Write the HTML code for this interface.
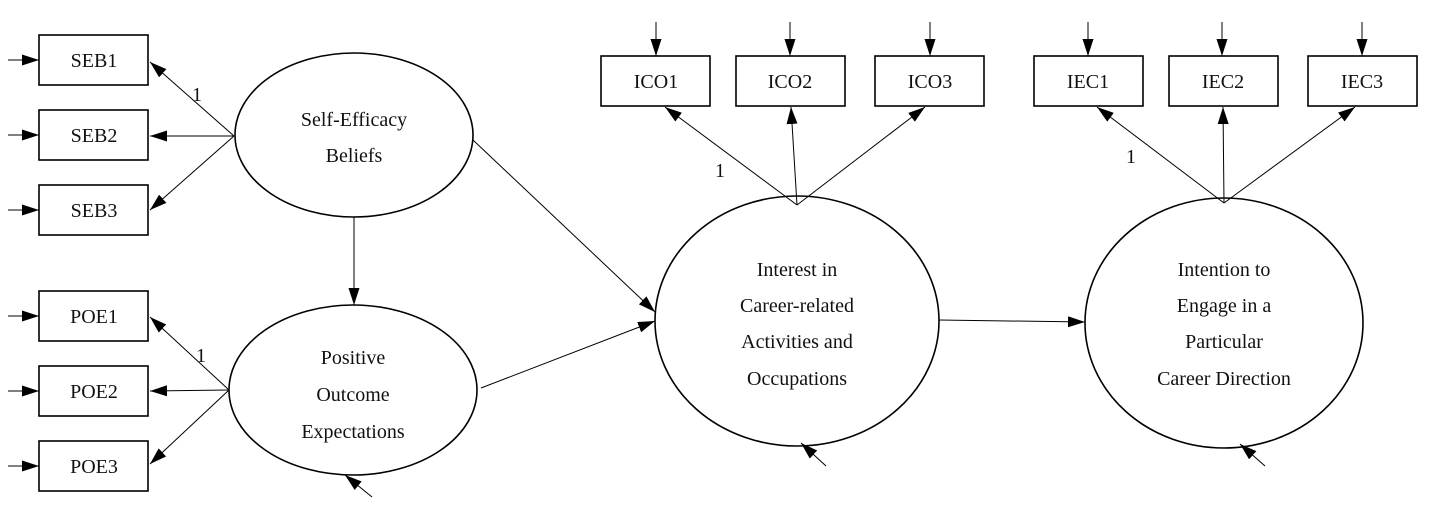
<!DOCTYPE html>
<html><head><meta charset="utf-8"><style>
html,body{margin:0;padding:0;background:#fff;}
svg{display:block;}
text{font-family:"Liberation Serif",serif;font-size:20px;fill:#111;text-anchor:middle;}
</style></head><body>
<svg width="1430" height="512" viewBox="0 0 1430 512" xmlns="http://www.w3.org/2000/svg">
<defs>
<marker id="a" markerWidth="17" markerHeight="11" refX="17" refY="5.5" orient="auto" markerUnits="userSpaceOnUse">
<path d="M0,0 L17,5.5 L0,11 z" fill="#000"/></marker>
</defs>
<g stroke="#000" stroke-width="1" fill="none">
<rect x="39" y="35" width="109" height="50" stroke-width="1.6"/>
<rect x="39" y="110" width="109" height="50" stroke-width="1.6"/>
<rect x="39" y="185" width="109" height="50" stroke-width="1.6"/>
<rect x="39" y="291" width="109" height="50" stroke-width="1.6"/>
<rect x="39" y="366" width="109" height="50" stroke-width="1.6"/>
<rect x="39" y="441" width="109" height="50" stroke-width="1.6"/>
<rect x="601" y="56" width="109" height="50" stroke-width="1.6"/>
<rect x="736" y="56" width="109" height="50" stroke-width="1.6"/>
<rect x="875" y="56" width="109" height="50" stroke-width="1.6"/>
<rect x="1034" y="56" width="109" height="50" stroke-width="1.6"/>
<rect x="1169" y="56" width="109" height="50" stroke-width="1.6"/>
<rect x="1308" y="56" width="109" height="50" stroke-width="1.6"/>
<ellipse cx="354" cy="135" rx="119" ry="82" stroke-width="1.6"/>
<ellipse cx="353" cy="390" rx="124" ry="85" stroke-width="1.6"/>
<ellipse cx="797" cy="321" rx="142" ry="125" stroke-width="1.6"/>
<ellipse cx="1224" cy="323" rx="139" ry="125" stroke-width="1.6"/>
<line x1="8" y1="60" x2="39" y2="60" marker-end="url(#a)"/>
<line x1="8" y1="135" x2="39" y2="135" marker-end="url(#a)"/>
<line x1="8" y1="210" x2="39" y2="210" marker-end="url(#a)"/>
<line x1="8" y1="316" x2="39" y2="316" marker-end="url(#a)"/>
<line x1="8" y1="391" x2="39" y2="391" marker-end="url(#a)"/>
<line x1="8" y1="466" x2="39" y2="466" marker-end="url(#a)"/>
<line x1="656" y1="22" x2="656" y2="56" marker-end="url(#a)"/>
<line x1="790" y1="22" x2="790" y2="56" marker-end="url(#a)"/>
<line x1="930" y1="22" x2="930" y2="56" marker-end="url(#a)"/>
<line x1="1088" y1="22" x2="1088" y2="56" marker-end="url(#a)"/>
<line x1="1222" y1="22" x2="1222" y2="56" marker-end="url(#a)"/>
<line x1="1362" y1="22" x2="1362" y2="56" marker-end="url(#a)"/>
<line x1="234" y1="136" x2="150" y2="62" marker-end="url(#a)"/>
<line x1="234" y1="136" x2="150" y2="136" marker-end="url(#a)"/>
<line x1="234" y1="136" x2="150" y2="210" marker-end="url(#a)"/>
<line x1="229" y1="390" x2="150" y2="317" marker-end="url(#a)"/>
<line x1="229" y1="390" x2="150" y2="391" marker-end="url(#a)"/>
<line x1="229" y1="390" x2="150" y2="464" marker-end="url(#a)"/>
<line x1="797" y1="205" x2="665" y2="107" marker-end="url(#a)"/>
<line x1="797" y1="205" x2="791" y2="107" marker-end="url(#a)"/>
<line x1="797" y1="205" x2="925" y2="107" marker-end="url(#a)"/>
<line x1="1224" y1="203" x2="1097" y2="107" marker-end="url(#a)"/>
<line x1="1224" y1="203" x2="1223" y2="107" marker-end="url(#a)"/>
<line x1="1224" y1="203" x2="1355" y2="107" marker-end="url(#a)"/>
<line x1="354" y1="217" x2="354" y2="305" marker-end="url(#a)"/>
<line x1="473" y1="140" x2="655" y2="312" marker-end="url(#a)"/>
<line x1="481" y1="388" x2="655" y2="321" marker-end="url(#a)"/>
<line x1="939" y1="320" x2="1085" y2="322" marker-end="url(#a)"/>
<line x1="372" y1="497" x2="345" y2="475" marker-end="url(#a)"/>
<line x1="826" y1="466" x2="801" y2="443" marker-end="url(#a)"/>
<line x1="1265" y1="466" x2="1240" y2="444" marker-end="url(#a)"/>
</g>
<text x="94" y="67">SEB1</text>
<text x="94" y="142">SEB2</text>
<text x="94" y="217">SEB3</text>
<text x="94" y="323">POE1</text>
<text x="94" y="398">POE2</text>
<text x="94" y="473">POE3</text>
<text x="656" y="88">ICO1</text>
<text x="790" y="88">ICO2</text>
<text x="930" y="88">ICO3</text>
<text x="1088" y="88">IEC1</text>
<text x="1223" y="88">IEC2</text>
<text x="1362" y="88">IEC3</text>
<text x="197" y="101">1</text>
<text x="201" y="362">1</text>
<text x="720" y="177">1</text>
<text x="1131" y="163">1</text>
<text x="354" y="126">Self-Efficacy</text>
<text x="354" y="162">Beliefs</text>
<text x="353" y="364">Positive</text>
<text x="353" y="401">Outcome</text>
<text x="353" y="438">Expectations</text>
<text x="797" y="276">Interest in</text>
<text x="797" y="312">Career-related</text>
<text x="797" y="348">Activities and</text>
<text x="797" y="385">Occupations</text>
<text x="1224" y="276">Intention to</text>
<text x="1224" y="312">Engage in a</text>
<text x="1224" y="348">Particular</text>
<text x="1224" y="385">Career Direction</text>
</svg>
</body></html>
